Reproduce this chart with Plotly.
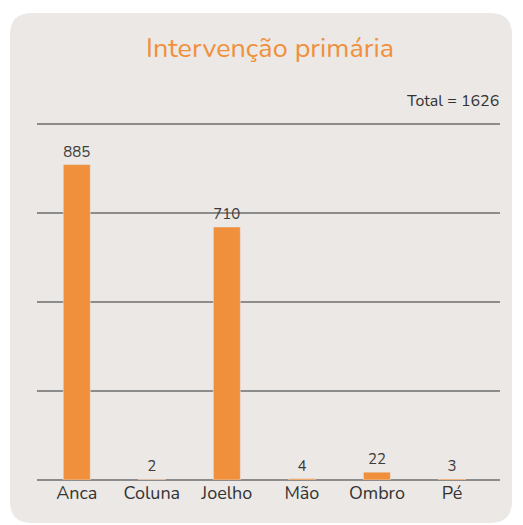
import plotly.graph_objects as go

categorias = ["Anca", "Coluna", "Joelho", "Mão", "Ombro", "Pé"]
valores = [885, 2, 710, 4, 22, 3]
titulo = "Intervenção primária"
total_txt = "Total = 1626"

# the page body has an 8px default margin, so the figure is drawn 8px smaller
# and every pixel position below is given in page coords, minus that offset
OFF = 8
W, H = 523 - OFF, 525 - OFF
ML, MR, MT, MB = 37 - OFF, 23, 120 - OFF, 45
PW, PH = W - ML - MR, H - MT - MB

ORANGE = "#f0903c"
PANEL = "#ebe8e5"
GRID = "#8c8c8c"
FONT = "Nunito, Lato, 'Open Sans', sans-serif"


def px(x):
    return (x - OFF - ML) / PW


def py(y):
    return (H - MB - (y - OFF)) / PH


def rounded_panel(x0, y0, x1, y1, r):
    # rounded rectangle in paper coords, built from pixel positions
    p = f"M {px(x0 + r)},{py(y0)} L {px(x1 - r)},{py(y0)} "
    p += f"Q {px(x1)},{py(y0)} {px(x1)},{py(y0 + r)} "
    p += f"L {px(x1)},{py(y1 - r)} Q {px(x1)},{py(y1)} {px(x1 - r)},{py(y1)} "
    p += f"L {px(x0 + r)},{py(y1)} Q {px(x0)},{py(y1)} {px(x0)},{py(y1 - r)} "
    p += f"L {px(x0)},{py(y0 + r)} Q {px(x0)},{py(y0)} {px(x0 + r)},{py(y0)} Z"
    return p


fig = go.Figure()
fig.add_trace(go.Bar(
    x=categorias, y=valores,
    marker_color=ORANGE, width=0.36,
    text=[str(v) for v in valores], textposition="outside",
    textfont=dict(size=15, color="#3c3c3c", family=FONT),
    cliponaxis=False,
))

fig.add_shape(type="path", path=rounded_panel(10, 13, 512, 523, 22),
              xref="paper", yref="paper", fillcolor=PANEL,
              line=dict(width=0), layer="below")

fig.add_annotation(text=titulo, xref="paper", yref="paper",
                   x=px(270), y=py(48), xanchor="center", yanchor="middle",
                   showarrow=False,
                   font=dict(size=27, color=ORANGE, family=FONT))
fig.add_annotation(text=total_txt, xref="paper", yref="paper",
                   x=px(501), y=py(101), xanchor="right", yanchor="middle",
                   showarrow=False,
                   font=dict(size=16, color="#333333", family=FONT))

fig.update_layout(
    width=W, height=H,
    margin=dict(l=ML, r=MR, t=MT, b=MB),
    paper_bgcolor="white", plot_bgcolor="rgba(0,0,0,0)",
    showlegend=False,
    xaxis=dict(range=[-0.53, 5.64], showgrid=False, ticks="",
               tickfont=dict(size=18, color="#333333", family=FONT),
               showline=False, zeroline=False),
    yaxis=dict(range=[0, 1010], tickvals=[0, 250, 500, 750, 1000],
               showticklabels=False, showgrid=True, gridcolor=GRID,
               gridwidth=1.5, zeroline=True, zerolinecolor=GRID,
               zerolinewidth=2, showline=False),
)

fig.write_html("out.html")
